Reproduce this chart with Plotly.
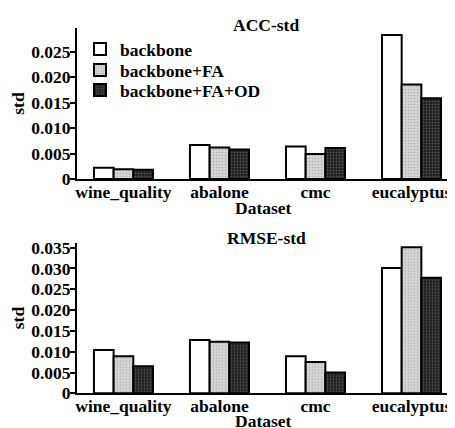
import plotly.graph_objects as go
from plotly.subplots import make_subplots

datasets = ["wine_quality", "abalone", "cmc", "eucalyptus"]
series = ["backbone", "backbone+FA", "backbone+FA+OD"]

acc_backbone = [0.0022, 0.0067, 0.0064, 0.0283]
acc_fa = [0.0019, 0.0062, 0.0049, 0.0186]
acc_od = [0.0018, 0.0058, 0.0061, 0.0159]

rmse_backbone = [0.0104, 0.0128, 0.0089, 0.0301]
rmse_fa = [0.0089, 0.0124, 0.0075, 0.0351]
rmse_od = [0.0065, 0.0122, 0.0050, 0.0278]

acc_ticks = [0, 0.005, 0.010, 0.015, 0.020, 0.025]
acc_ticktext = ["0", "0.005", "0.010", "0.015", "0.020", "0.025"]
rmse_ticks = [0, 0.005, 0.010, 0.015, 0.020, 0.025, 0.030, 0.035]
rmse_ticktext = ["0", "0.005", "0.010", "0.015", "0.020", "0.025", "0.030", "0.035"]

FONT = "Times New Roman, Liberation Serif, Times, serif"
FS = 17.5
FW = "bold"

def F(size=FS):
    return dict(family=FONT, size=size, color="black", weight=FW)

styles = [
    dict(color="white", pattern=None),
    dict(color="#d9d9d9", pattern=dict(shape=".", fgcolor="#8a8a8a", bgcolor="#dcdcdc", size=3, solidity=0.4)),
    dict(color="#2a2a2a", pattern=dict(shape=".", fgcolor="#8a8a8a", bgcolor="#1e1e1e", size=3, solidity=0.3)),
]
legend_ids = ["legend", "legend2", "legend3"]

fig = make_subplots(rows=2, cols=1)

for row, vals in [(1, [acc_backbone, acc_fa, acc_od]), (2, [rmse_backbone, rmse_fa, rmse_od])]:
    for name, v, st, lg in zip(series, vals, styles, legend_ids):
        marker = dict(color=st["color"], line=dict(color="black", width=2))
        if st["pattern"]:
            marker["pattern"] = st["pattern"]
        fig.add_trace(go.Bar(x=datasets, y=v, name=name, marker=marker, legend=lg,
                             showlegend=(row == 1)), row=row, col=1)

# page has an 8px body margin; figure coordinates = page pixels - 8
OFF = 8
W, H = 455 - OFF, 428 - OFF
L = 77 - OFF
PW = W - L

def py(p):
    return 1 - (p - OFF) / H

def px(p):
    return (p - 77) / PW

leg_y = [49, 70, 90]
legends = {}
for lg, yv in zip(legend_ids, leg_y):
    legends[lg] = dict(x=px(80), y=py(yv), xanchor="left", yanchor="middle",
                       bgcolor="rgba(0,0,0,0)", font=F(), itemwidth=30)

fig.update_layout(
    width=W, height=H,
    margin=dict(l=L, r=0, t=0, b=0),
    paper_bgcolor="white", plot_bgcolor="white",
    barmode="group", bargap=0.385, bargroupgap=0,
    font=F(),
    **legends,
)

xrange = [-0.484, 3.453]
doms = {1: [py(179), py(28)], 2: [py(393.3), py(242.7)]}
yr = {1: [0, 0.0297], 2: [0, 0.0362]}
tk = {1: (acc_ticks, acc_ticktext), 2: (rmse_ticks, rmse_ticktext)}
for row in (1, 2):
    fig.update_xaxes(row=row, col=1, range=xrange, showline=True, linecolor="black",
                     linewidth=2, ticks="", showgrid=False, zeroline=False,
                     tickfont=F(), automargin=False, ticklabelstandoff=-4)
    fig.update_yaxes(row=row, col=1, domain=doms[row], range=yr[row], showline=True,
                     linecolor="black", linewidth=2, ticks="outside", ticklen=5,
                     tickwidth=2, tickcolor="black", showgrid=False, zeroline=False,
                     tickvals=tk[row][0], ticktext=tk[row][1],
                     tickfont=F(), ticklabelstandoff=-4,
                     title=dict(text="std", standoff=4, font=F()),
                     automargin=False)

def ann(text, xpx, ypx):
    fig.add_annotation(text=text, x=px(xpx), y=py(ypx),
                       xref="paper", yref="paper", showarrow=False,
                       xanchor="center", yanchor="middle", font=F())

ann("ACC-std", 265.5, 25)
ann("RMSE-std", 266, 238)
ann("Dataset", 263, 208)
ann("Dataset", 263, 421)

fig.write_html("out.html")
